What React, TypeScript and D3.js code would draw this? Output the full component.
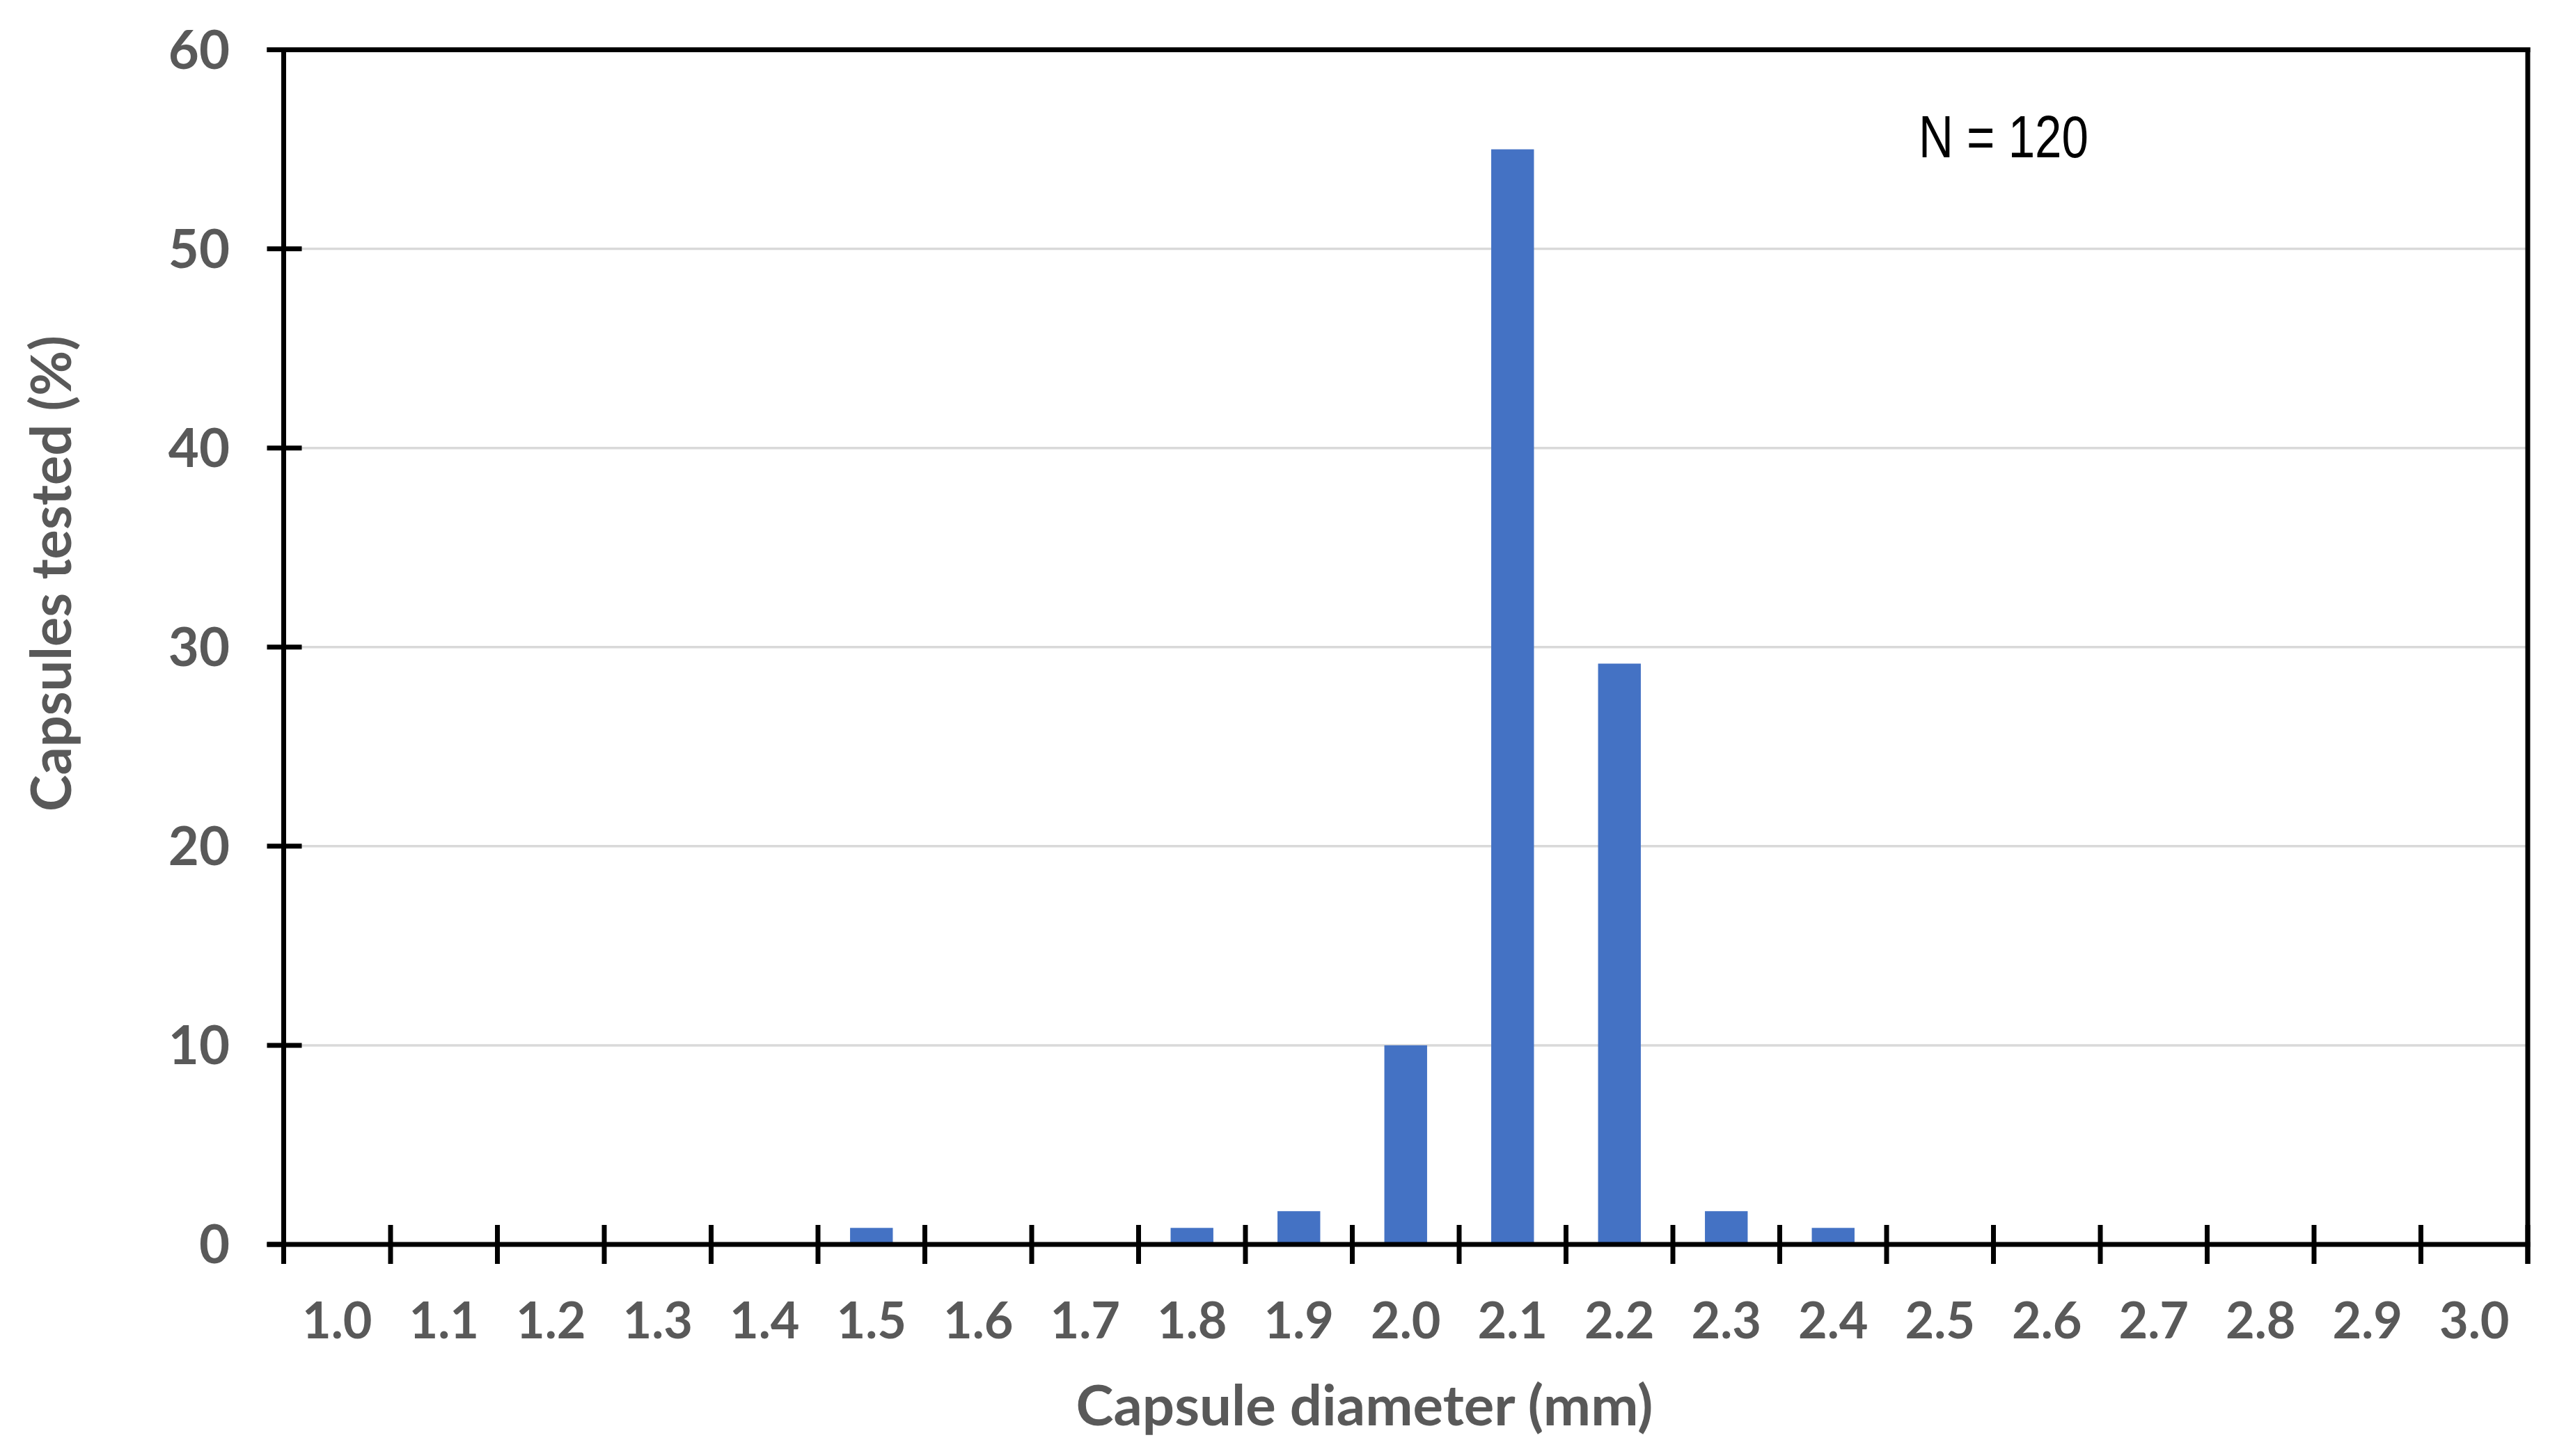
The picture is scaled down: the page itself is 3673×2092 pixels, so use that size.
import React from "react";
import * as d3 from "d3";

// capsule diameter classes (mm) and share of capsules tested (%), N = 120
const diameters = [
  "1.0", "1.1", "1.2", "1.3", "1.4", "1.5", "1.6", "1.7", "1.8", "1.9", "2.0",
  "2.1", "2.2", "2.3", "2.4", "2.5", "2.6", "2.7", "2.8", "2.9", "3.0",
];
const capsulePercent = [
  0, 0, 0, 0, 0, 0.83, 0, 0, 0.83, 1.67, 10,
  55, 29.17, 1.67, 0.83, 0, 0, 0, 0, 0, 0,
];
const yTicks = [0, 10, 20, 30, 40, 50, 60];
const sampleLabel = "N = 120";

const W = 3673;
const H = 2092;
const left = 407.5;
const right = 3631;
const top = 71.5;
const bottom = 1788;

const labelFont = "Lato, 'Open Sans', sans-serif";
const textGray = "#595959";

export default function App() {
  // bars: 40% of each slot, like Excel's 150% gap width
  const x = d3
    .scaleBand<string>()
    .domain(diameters)
    .range([left, right])
    .paddingInner(0.6)
    .paddingOuter(0.3);
  // slots without padding, for the tick marks between categories
  const slot = d3.scaleBand<string>().domain(diameters).range([left, right]).padding(0);
  const y = d3.scaleLinear().domain([0, 60]).range([bottom, top]);

  const tickXs = diameters.map((d) => slot(d) as number).concat([right]);

  return (
    <svg
      width={W}
      height={H}
      style={{ position: "absolute", left: 0, top: 0, background: "#fff" }}
    >
      <rect x={0} y={0} width={W} height={H} fill="#fff" />

      {/* gridlines */}
      {yTicks
        .filter((t) => t > 0 && t < 60)
        .map((t) => (
          <line key={t} x1={left} x2={right} y1={y(t)} y2={y(t)} stroke="#d9d9d9" strokeWidth={3.5} />
        ))}

      {/* bars */}
      {diameters.map((d, i) =>
        capsulePercent[i] > 0 ? (
          <rect
            key={d}
            x={x(d)}
            y={y(capsulePercent[i])}
            width={x.bandwidth()}
            height={y(0) - y(capsulePercent[i])}
            fill="#4472C4"
          />
        ) : null
      )}

      {/* frame */}
      <line x1={left - 24} x2={right + 3.5} y1={top} y2={top} stroke="#000" strokeWidth={7} />
      <line x1={left} x2={left} y1={top - 3.5} y2={bottom + 28} stroke="#000" strokeWidth={7} />
      <line x1={right} x2={right} y1={top - 3.5} y2={bottom + 28} stroke="#000" strokeWidth={7} />
      <line x1={left - 24} x2={right + 3.5} y1={bottom} y2={bottom} stroke="#000" strokeWidth={7} />

      {/* y ticks */}
      {yTicks.map((t) => (
        <line
          key={t}
          x1={left - 24}
          x2={t === 0 || t === 60 ? left : left + 26}
          y1={y(t)}
          y2={y(t)}
          stroke="#000"
          strokeWidth={7}
        />
      ))}

      {/* x ticks */}
      {tickXs.map((tx, i) => (
        <line key={i} x1={tx} x2={tx} y1={bottom - 28} y2={bottom + 28} stroke="#000" strokeWidth={7} />
      ))}

      {/* y tick labels */}
      {yTicks.map((t) => (
        <text
          key={t}
          x={330}
          y={y(t) + 27}
          textAnchor="end"
          fontFamily={labelFont}
          fontWeight="bold"
          fontSize={76}
          fill={textGray}
        >
          {t}
        </text>
      ))}

      {/* x tick labels */}
      {diameters.map((d) => (
        <text
          key={d}
          x={(slot(d) as number) + slot.bandwidth() / 2}
          y={1923}
          textAnchor="middle"
          fontFamily={labelFont}
          fontWeight="bold"
          fontSize={72}
          fill={textGray}
        >
          {d}
        </text>
      ))}

      {/* axis titles */}
      <text
        x={1960}
        y={2048}
        textAnchor="middle"
        fontFamily={labelFont}
        fontWeight="bold"
        fontSize={80}
        fill={textGray}
        textLength={829}
        lengthAdjust="spacingAndGlyphs"
      >
        Capsule diameter (mm)
      </text>
      <text
        transform={`translate(102,${824}) rotate(-90)`}
        x={0}
        y={0}
        textAnchor="middle"
        fontFamily={labelFont}
        fontWeight="bold"
        fontSize={80}
        fill={textGray}
        textLength={684}
        lengthAdjust="spacingAndGlyphs"
      >
        Capsules tested (%)
      </text>

      {/* sample size note */}
      <text
        x={2756}
        y={226}
        fontFamily="'Liberation Sans', Arial, sans-serif"
        fontSize={85}
        fill="#000"
        textLength={244}
        lengthAdjust="spacingAndGlyphs"
      >
        {sampleLabel}
      </text>
    </svg>
  );
}
